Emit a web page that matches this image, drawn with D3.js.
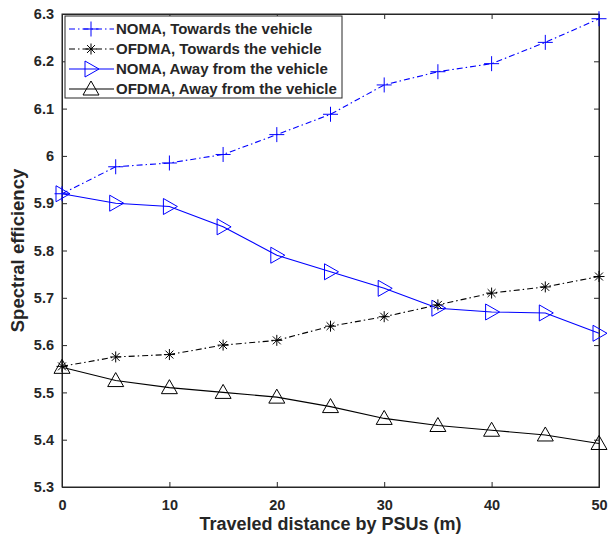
<!DOCTYPE html>
<html>
<head>
<meta charset="utf-8">
<script src="https://cdn.jsdelivr.net/npm/d3@7"></script>
<style>
  body { margin: 0; background: #fff; }
  svg text { font-family: "Liberation Sans", Arial, sans-serif; font-weight: bold; fill: #262626; }
</style>
</head>
<body>
<svg id="chart" width="608" height="539"></svg>
<script>
// distances (m)
var distance = [0, 5, 10, 15, 20, 25, 30, 35, 40, 45, 50];

var nomaTowards  = [5.920, 5.977, 5.985, 6.003, 6.045, 6.088, 6.150, 6.178, 6.195, 6.240, 6.290];
var ofdmaTowards = [5.555, 5.575, 5.580, 5.600, 5.610, 5.640, 5.660, 5.685, 5.710, 5.723, 5.745];
var nomaAway     = [5.920, 5.900, 5.893, 5.850, 5.790, 5.755, 5.720, 5.678, 5.670, 5.668, 5.625];
var ofdmaAway    = [5.553, 5.525, 5.510, 5.500, 5.490, 5.470, 5.445, 5.430, 5.420, 5.410, 5.392];

var xTicks = [0, 10, 20, 30, 40, 50];
var yTicks = [5.3, 5.4, 5.5, 5.6, 5.7, 5.8, 5.9, 6, 6.1, 6.2, 6.3];

var series = [
  { name: 'NOMA, Towards the vehicle',   values: nomaTowards,  color: '#0000ff', dash: '6,3,1.5,3', marker: 'plus' },
  { name: 'OFDMA, Towards the vehicle',  values: ofdmaTowards, color: '#000000', dash: '6,3,1.5,3', marker: 'star' },
  { name: 'NOMA, Away from the vehicle', values: nomaAway,     color: '#0000ff', dash: null,        marker: 'tri-right' },
  { name: 'OFDMA, Away from the vehicle',values: ofdmaAway,    color: '#000000', dash: null,        marker: 'tri-up' }
];

var margin = { left: 62, right: 9, top: 14, bottom: 52 };
var W = 608, H = 539;
var svg = d3.select('#chart');

var x = d3.scaleLinear().domain([0, 50]).range([margin.left, W - margin.right]);
var y = d3.scaleLinear().domain([5.3, 6.3]).range([H - margin.bottom, margin.top]);

var axisColor = '#262626';

// axes box
var g = svg.append('g');
g.append('rect')
  .attr('x', x(0)).attr('y', y(6.3))
  .attr('width', x(50) - x(0)).attr('height', y(5.3) - y(6.3))
  .attr('fill', 'none').attr('stroke', axisColor).attr('stroke-width', 1);

var xAxis = g.append('g').attr('transform', 'translate(0,' + y(5.3) + ')')
  .call(d3.axisBottom(x).tickValues(xTicks).tickSize(-5).tickPadding(13).tickFormat(d3.format('d')));
var xTop = g.append('g').attr('transform', 'translate(0,' + y(6.3) + ')')
  .call(d3.axisTop(x).tickValues(xTicks).tickSize(-5).tickFormat(''));
var yAxis = g.append('g').attr('transform', 'translate(' + x(0) + ',0)')
  .call(d3.axisLeft(y).tickValues(yTicks).tickSize(-5).tickPadding(8)
    .tickFormat(function(d){ return d === 6 ? '6' : d3.format('.1f')(d); }));
var yRight = g.append('g').attr('transform', 'translate(' + x(50) + ',0)')
  .call(d3.axisRight(y).tickValues(yTicks).tickSize(-5).tickFormat(''));

[xAxis, xTop, yAxis, yRight].forEach(function(a){
  a.select('.domain').attr('stroke', axisColor);
  a.selectAll('.tick line').attr('stroke', axisColor);
  a.selectAll('text').style('font-size', '14.5px').attr('fill', axisColor);
});

// axis labels
svg.append('text')
  .attr('x', (x(0) + x(50)) / 2).attr('y', 530)
  .attr('text-anchor', 'middle').style('font-size', '18px')
  .text('Traveled distance by PSUs (m)');
svg.append('text')
  .attr('transform', 'translate(24,' + ((y(5.3) + y(6.3)) / 2) + ') rotate(-90)')
  .attr('text-anchor', 'middle').style('font-size', '18.5px')
  .text('Spectral efficiency');

function drawMarker(sel, type, color, cx, cy) {
  var s = 7.5;
  if (type === 'plus') {
    sel.append('path').attr('d', 'M' + (cx - s) + ',' + cy + 'H' + (cx + s) + 'M' + cx + ',' + (cy - s) + 'V' + (cy + s))
      .attr('stroke', color).attr('stroke-width', 1).attr('fill', 'none');
  } else if (type === 'star') {
    var r = 5.5, d = r * 0.72;
    sel.append('path').attr('d',
      'M' + (cx - r) + ',' + cy + 'H' + (cx + r) +
      'M' + cx + ',' + (cy - r) + 'V' + (cy + r) +
      'M' + (cx - d) + ',' + (cy - d) + 'L' + (cx + d) + ',' + (cy + d) +
      'M' + (cx - d) + ',' + (cy + d) + 'L' + (cx + d) + ',' + (cy - d))
      .attr('stroke', color).attr('stroke-width', 1).attr('fill', 'none');
  } else if (type === 'tri-right') {
    sel.append('path').attr('d', 'M' + (cx - 6) + ',' + (cy - 8) + 'L' + (cx + 8) + ',' + cy + 'L' + (cx - 6) + ',' + (cy + 8) + 'Z')
      .attr('stroke', color).attr('stroke-width', 1).attr('fill', 'none');
  } else if (type === 'tri-up') {
    sel.append('path').attr('d', 'M' + (cx - 8) + ',' + (cy + 6) + 'L' + cx + ',' + (cy - 8) + 'L' + (cx + 8) + ',' + (cy + 6) + 'Z')
      .attr('stroke', color).attr('stroke-width', 1).attr('fill', 'none');
  }
}

var line = d3.line()
  .x(function(d, i){ return x(distance[i]); })
  .y(function(d){ return y(d); });

// draw in reverse so the first series ends on top
series.slice().reverse().forEach(function(s) {
  var sg = svg.append('g');
  sg.append('path').datum(s.values)
    .attr('d', line)
    .attr('fill', 'none')
    .attr('stroke', s.color)
    .attr('stroke-width', 1.1)
    .attr('stroke-dasharray', s.dash);
  s.values.forEach(function(v, i) {
    drawMarker(sg, s.marker, s.color, x(distance[i]), y(v));
  });
});

// legend
var lg = svg.append('g');
lg.append('rect').attr('x', 65).attr('y', 16).attr('width', 277).attr('height', 82)
  .attr('fill', '#fff').attr('stroke', axisColor).attr('stroke-width', 1);
series.forEach(function(s, i) {
  var cy = 29 + i * 20;
  lg.append('line').attr('x1', 69).attr('x2', 114).attr('y1', cy).attr('y2', cy)
    .attr('stroke', s.color).attr('stroke-width', 1.1).attr('stroke-dasharray', s.dash);
  drawMarker(lg, s.marker, s.color, 91, cy);
  lg.append('text').attr('x', 116).attr('y', cy + 5).style('font-size', '15px').attr('fill', '#000').text(s.name);
});
</script>
</body>
</html>
